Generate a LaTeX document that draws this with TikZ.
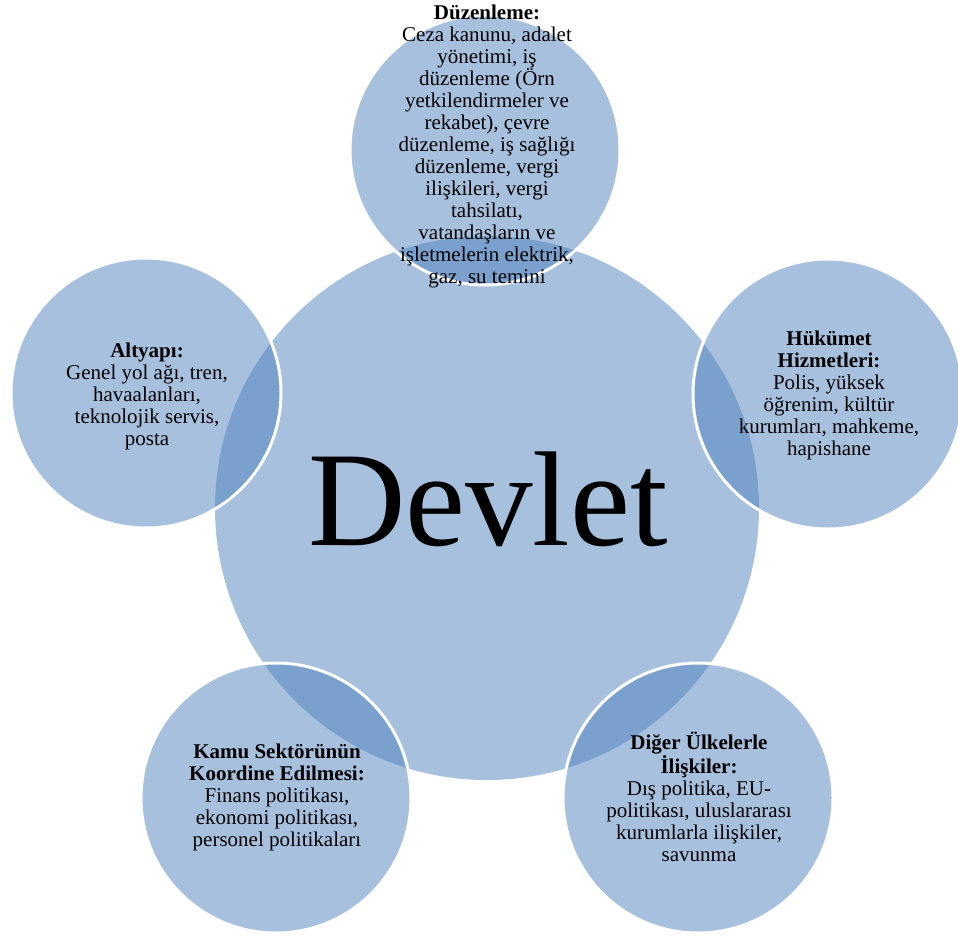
\documentclass[tikz,border=0pt]{standalone}
\usepackage{fontspec}
\setmainfont{Liberation Serif}
\usepackage{xcolor}
\definecolor{govblue}{HTML}{4F81BD}

\begin{document}
\begin{tikzpicture}[x=1pt,y=-1pt,
  hub/.style={circle,fill=govblue,fill opacity=.5,
    minimum size=544pt,inner sep=0pt},
  petal/.style={circle,fill=govblue,fill opacity=.5,draw=white,draw opacity=1,
    line width=3pt,minimum size=270pt,inner sep=0pt},
  txt/.style={align=center,inner sep=0pt,font=\fontsize{21}{22}\selectfont},
  big/.style={inner sep=0pt,font=\fontsize{135}{135}\selectfont}]
\useasboundingbox (0,0) rectangle (958,936);
% the state in the middle
\node[hub] (devlet) at (487,508) {};
% five fields around it
\node[petal] (duz) at (485,150) {};
\node[petal] (hiz) at (828,394) {};
\node[petal] (alt) at (146,393) {};
\node[petal] (kamu) at (276,798) {};
\node[petal] (dis) at (698,798) {};
% texts
\node[big] (devletlbl) at (488,499) {Devlet};
\node[txt] (duzlbl) at (487,146) {\textbf{Düzenleme:}\\Ceza kanunu, adalet\\
  yönetimi, iş\\düzenleme (Örn\\yetkilendirmeler ve\\rekabet), çevre\\
  düzenleme, iş sağlığı\\düzenleme, vergi\\ilişkileri, vergi\\tahsilatı,\\
  vatandaşların ve\\işletmelerin elektrik,\\gaz, su temini};
\node[txt] (hizlbl) at (829,395) {\textbf{Hükümet}\\\textbf{Hizmetleri:}\\
  Polis, yüksek\\öğrenim, kültür\\kurumları, mahkeme,\\hapishane};
\node[txt] (altlbl) at (147,396) {\textbf{Altyapı:}\\Genel yol ağı, tren,\\
  havaalanları,\\teknolojik servis,\\posta};
\node[txt] (kamulbl) at (277,797) {\textbf{Kamu Sektörünün}\\
  \textbf{Koordine Edilmesi:}\\Finans politikası,\\ekonomi politikası,\\
  personel politikaları};
\node[txt] (dislbl) at (699,797) {\textbf{Diğer Ülkelerle}\\\textbf{İlişkiler:}\\
  Dış politika, EU-\\politikası, uluslararası\\kurumlarla ilişkiler,\\savunma};
\end{tikzpicture}
\end{document}
